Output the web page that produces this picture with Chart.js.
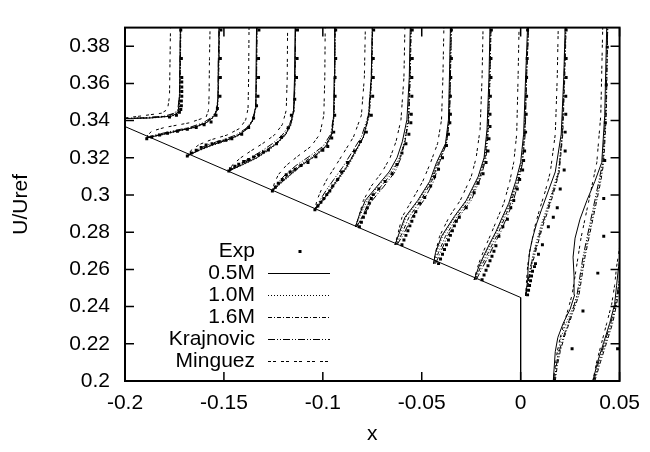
<!DOCTYPE html>
<html><head><meta charset="utf-8">
<script src="https://cdn.jsdelivr.net/npm/chart.js@4.4.1/dist/chart.umd.min.js"></script>
<style>html,body{margin:0;padding:0;background:#fff;}canvas{display:block;}</style>
</head><body>
<canvas id="c" width="650" height="452"></canvas>
<script>
const seriesNames = ['Exp', '0.5M', '1.0M', '1.6M', 'Krajnovic', 'Minguez'];
const xMin = -0.2, xMax = 0.05, xStep = 0.05;
const yMin = 0.2, yMax = 0.39, yStep = 0.02;

const wallX = [-0.2, 0, 0];
const wallY = [0.3368, 0.2449, 0.2];

const p0Y = [0.3409, 0.3414, 0.3424, 0.3440, 0.3460, 0.3531, 0.3683, 0.3902];
const p0S = [-0.2090, -0.1875, -0.1765, -0.1735, -0.1728, -0.1725, -0.1723, -0.1720];
const p0D = [-0.2090, -0.1865, -0.1760, -0.1733, -0.1725, -0.1723, -0.1720, -0.1718];
const p0C = [-0.2090, -0.1900, -0.1785, -0.1745, -0.1730, -0.1725, -0.1720, -0.1718];
const p0K = [-0.2090, -0.1925, -0.1800, -0.1750, -0.1733, -0.1725, -0.1723, -0.1720];
const p0M = [-0.2090, -0.2000, -0.1925, -0.1815, -0.1785, -0.1775, -0.1773, -0.1770];
const p0EY = [0.3419, 0.3429, 0.3445, 0.3460, 0.3480, 0.3505, 0.3531, 0.3556, 0.3581, 0.3607, 0.3632, 0.3734, 0.3887];
const p0EX = [-0.1775, -0.1740, -0.1725, -0.1718, -0.1715, -0.1715, -0.1713, -0.1713, -0.1713, -0.1713, -0.1713, -0.1715, -0.1718];

const p1Y = [0.3307, 0.3322, 0.3343, 0.3363, 0.3388, 0.3419, 0.3455, 0.3531, 0.3734, 0.3902];
const p1S = [-0.1890, -0.1825, -0.1740, -0.1650, -0.1590, -0.1553, -0.1535, -0.1530, -0.1528, -0.1525];
const p1D = [-0.1890, -0.1815, -0.1730, -0.1645, -0.1585, -0.1550, -0.1533, -0.1528, -0.1525, -0.1523];
const p1C = [-0.1890, -0.1835, -0.1750, -0.1660, -0.1595, -0.1555, -0.1535, -0.1528, -0.1525, -0.1523];
const p1K = [-0.1890, -0.1850, -0.1765, -0.1675, -0.1605, -0.1560, -0.1538, -0.1530, -0.1528, -0.1525];
const p1M = [-0.1890, -0.1885, -0.1865, -0.1800, -0.1675, -0.1590, -0.1578, -0.1575, -0.1573, -0.1570];
const p1EY = [0.3302, 0.3312, 0.3322, 0.3332, 0.3343, 0.3353, 0.3363, 0.3378, 0.3393, 0.3429, 0.3465, 0.3531, 0.3632, 0.3734, 0.3887];
const p1EX = [-0.1890, -0.1865, -0.1825, -0.1785, -0.1735, -0.1685, -0.1640, -0.1600, -0.1565, -0.1540, -0.1533, -0.1520, -0.1518, -0.1518, -0.1515];

const p2Y = [0.3210, 0.3241, 0.3271, 0.3297, 0.3322, 0.3358, 0.3404, 0.3465, 0.3632, 0.3902];
const p2S = [-0.1685, -0.1625, -0.1555, -0.1480, -0.1425, -0.1380, -0.1353, -0.1342, -0.1338, -0.1335];
const p2D = [-0.1685, -0.1620, -0.1545, -0.1470, -0.1420, -0.1378, -0.1350, -0.1340, -0.1335, -0.1333];
const p2C = [-0.1685, -0.1630, -0.1565, -0.1490, -0.1430, -0.1383, -0.1353, -0.1340, -0.1335, -0.1333];
const p2K = [-0.1685, -0.1640, -0.1580, -0.1505, -0.1440, -0.1388, -0.1355, -0.1340, -0.1335, -0.1333];
const p2M = [-0.1685, -0.1665, -0.1625, -0.1565, -0.1485, -0.1420, -0.1390, -0.1378, -0.1375, -0.1373];
const p2EY = [0.3210, 0.3226, 0.3241, 0.3256, 0.3269, 0.3276, 0.3285, 0.3294, 0.3302, 0.3327, 0.3363, 0.3414, 0.3480, 0.3531, 0.3632, 0.3734, 0.3887];
const p2EX = [-0.1685, -0.1665, -0.1640, -0.1615, -0.1590, -0.1560, -0.1525, -0.1490, -0.1460, -0.1410, -0.1375, -0.1350, -0.1335, -0.1328, -0.1325, -0.1325, -0.1323];

const p3Y = [0.3129, 0.3164, 0.3200, 0.3236, 0.3276, 0.3322, 0.3378, 0.3455, 0.3632, 0.3902];
const p3S = [-0.1475, -0.1405, -0.1335, -0.1285, -0.1235, -0.1190, -0.1163, -0.1148, -0.1143, -0.1140];
const p3D = [-0.1475, -0.1400, -0.1330, -0.1280, -0.1230, -0.1188, -0.1160, -0.1145, -0.1140, -0.1138];
const p3C = [-0.1475, -0.1415, -0.1350, -0.1295, -0.1240, -0.1195, -0.1163, -0.1145, -0.1140, -0.1138];
const p3K = [-0.1475, -0.1425, -0.1365, -0.1310, -0.1255, -0.1205, -0.1168, -0.1148, -0.1140, -0.1138];
const p3M = [-0.1475, -0.1455, -0.1415, -0.1365, -0.1305, -0.1245, -0.1205, -0.1185, -0.1180, -0.1178];
const p3EY = [0.3129, 0.3141, 0.3154, 0.3166, 0.3180, 0.3191, 0.3205, 0.3217, 0.3231, 0.3242, 0.3276, 0.3310, 0.3361, 0.3429, 0.3515, 0.3632, 0.3734, 0.3887];
const p3EX = [-0.1475, -0.1467, -0.1445, -0.1425, -0.1400, -0.1375, -0.1350, -0.1325, -0.1300, -0.1275, -0.1234, -0.1209, -0.1175, -0.1159, -0.1142, -0.1133, -0.1130, -0.1128];

const p4Y = [0.3022, 0.3063, 0.3109, 0.3159, 0.3210, 0.3261, 0.3327, 0.3429, 0.3632, 0.3902];
const p4S = [-0.1255, -0.1215, -0.1165, -0.1110, -0.1040, -0.0985, -0.0955, -0.0945, -0.0943, -0.0940];
const p4D = [-0.1255, -0.1210, -0.1160, -0.1105, -0.1035, -0.0980, -0.0953, -0.0943, -0.0940, -0.0938];
const p4C = [-0.1255, -0.1220, -0.1175, -0.1120, -0.1050, -0.0990, -0.0955, -0.0943, -0.0940, -0.0938];
const p4K = [-0.1255, -0.1230, -0.1190, -0.1135, -0.1065, -0.1000, -0.0960, -0.0945, -0.0940, -0.0938];
const p4M = [-0.1255, -0.1245, -0.1225, -0.1185, -0.1125, -0.1060, -0.1015, -0.0995, -0.0990, -0.0988];
const p4EY = [0.3022, 0.3042, 0.3063, 0.3083, 0.3109, 0.3124, 0.3139, 0.3159, 0.3175, 0.3205, 0.3241, 0.3261, 0.3307, 0.3338, 0.3429, 0.3531, 0.3632, 0.3734, 0.3887];
const p4EX = [-0.1255, -0.1240, -0.1225, -0.1205, -0.1185, -0.1165, -0.1140, -0.1110, -0.1075, -0.1035, -0.1000, -0.0975, -0.0955, -0.0945, -0.0940, -0.0938, -0.0938, -0.0935, -0.0935];

const p5Y = [0.2920, 0.2971, 0.3022, 0.3083, 0.3149, 0.3226, 0.3312, 0.3429, 0.3632, 0.3902];
const p5S = [-0.1040, -0.1000, -0.0965, -0.0925, -0.0880, -0.0840, -0.0795, -0.0768, -0.0755, -0.0750];
const p5D = [-0.1040, -0.0995, -0.0960, -0.0920, -0.0875, -0.0835, -0.0793, -0.0765, -0.0753, -0.0748];
const p5C = [-0.1040, -0.1005, -0.0970, -0.0930, -0.0885, -0.0840, -0.0795, -0.0765, -0.0753, -0.0748];
const p5K = [-0.1040, -0.1015, -0.0985, -0.0945, -0.0900, -0.0855, -0.0805, -0.0770, -0.0755, -0.0750];
const p5M = [-0.1040, -0.1030, -0.1010, -0.0980, -0.0940, -0.0895, -0.0845, -0.0805, -0.0790, -0.0785];
const p5EY = [0.2920, 0.2941, 0.2961, 0.2981, 0.3002, 0.3022, 0.3048, 0.3083, 0.3124, 0.3175, 0.3236, 0.3287, 0.3338, 0.3429, 0.3531, 0.3632, 0.3734, 0.3887];
const p5EX = [-0.1040, -0.1025, -0.1010, -0.0995, -0.0980, -0.0965, -0.0950, -0.0925, -0.0905, -0.0875, -0.0840, -0.0810, -0.0780, -0.0755, -0.0748, -0.0745, -0.0745, -0.0743];

const p6Y = [0.2829, 0.2895, 0.2971, 0.3048, 0.3124, 0.3200, 0.3287, 0.3404, 0.3632, 0.3902];
const p6S = [-0.0835, -0.0815, -0.0785, -0.0725, -0.0665, -0.0625, -0.0598, -0.0575, -0.0563, -0.0558];
const p6D = [-0.0835, -0.0810, -0.0775, -0.0720, -0.0655, -0.0613, -0.0588, -0.0568, -0.0560, -0.0555];
const p6C = [-0.0830, -0.0795, -0.0765, -0.0705, -0.0645, -0.0610, -0.0585, -0.0565, -0.0558, -0.0553];
const p6K = [-0.0830, -0.0790, -0.0750, -0.0690, -0.0635, -0.0605, -0.0585, -0.0568, -0.0560, -0.0555];
const p6M = [-0.0835, -0.0815, -0.0795, -0.0755, -0.0700, -0.0660, -0.0630, -0.0605, -0.0590, -0.0585];
const p6EY = [0.2829, 0.2854, 0.2880, 0.2905, 0.2931, 0.2956, 0.2981, 0.3002, 0.3032, 0.3073, 0.3114, 0.3164, 0.3226, 0.3276, 0.3327, 0.3388, 0.3434, 0.3531, 0.3632, 0.3734, 0.3887];
const p6EX = [-0.0815, -0.0805, -0.0795, -0.0785, -0.0775, -0.0765, -0.0755, -0.0745, -0.0717, -0.0685, -0.0650, -0.0625, -0.0600, -0.0580, -0.0565, -0.0555, -0.0553, -0.0550, -0.0550, -0.0548, -0.0548];

const p7Y = [0.2732, 0.2793, 0.2880, 0.2971, 0.3073, 0.3175, 0.3276, 0.3404, 0.3632, 0.3902];
const p7S = [-0.0635, -0.0615, -0.0585, -0.0520, -0.0460, -0.0425, -0.0380, -0.0365, -0.0360, -0.0355];
const p7D = [-0.0635, -0.0610, -0.0580, -0.0515, -0.0455, -0.0420, -0.0378, -0.0363, -0.0358, -0.0353];
const p7C = [-0.0630, -0.0600, -0.0565, -0.0505, -0.0450, -0.0415, -0.0375, -0.0360, -0.0355, -0.0350];
const p7K = [-0.0625, -0.0590, -0.0550, -0.0490, -0.0440, -0.0410, -0.0375, -0.0360, -0.0355, -0.0350];
const p7M = [-0.0635, -0.0620, -0.0600, -0.0550, -0.0495, -0.0455, -0.0420, -0.0400, -0.0393, -0.0388];
const p7EY = [0.2732, 0.2758, 0.2783, 0.2808, 0.2834, 0.2859, 0.2885, 0.2910, 0.2956, 0.2987, 0.3048, 0.3098, 0.3139, 0.3200, 0.3266, 0.3327, 0.3388, 0.3434, 0.3531, 0.3632, 0.3734, 0.3887];
const p7EX = [-0.0600, -0.0590, -0.0580, -0.0570, -0.0560, -0.0550, -0.0540, -0.0530, -0.0510, -0.0485, -0.0455, -0.0435, -0.0415, -0.0395, -0.0375, -0.0365, -0.0358, -0.0355, -0.0355, -0.0353, -0.0350, -0.0350];

const p8Y = [0.2631, 0.2692, 0.2778, 0.2885, 0.2971, 0.3098, 0.3200, 0.3353, 0.3632, 0.3902];
const p8S = [-0.0440, -0.0430, -0.0400, -0.0335, -0.0275, -0.0215, -0.0185, -0.0170, -0.0160, -0.0155];
const p8D = [-0.0440, -0.0425, -0.0395, -0.0330, -0.0270, -0.0210, -0.0183, -0.0168, -0.0158, -0.0153];
const p8C = [-0.0435, -0.0415, -0.0380, -0.0320, -0.0260, -0.0205, -0.0180, -0.0165, -0.0155, -0.0150];
const p8K = [-0.0430, -0.0405, -0.0370, -0.0310, -0.0250, -0.0200, -0.0175, -0.0163, -0.0155, -0.0150];
const p8M = [-0.0440, -0.0430, -0.0410, -0.0360, -0.0305, -0.0250, -0.0225, -0.0205, -0.0195, -0.0190];
const p8EY = [0.2631, 0.2656, 0.2681, 0.2707, 0.2732, 0.2758, 0.2783, 0.2808, 0.2834, 0.2859, 0.2880, 0.2931, 0.3012, 0.3063, 0.3114, 0.3175, 0.3236, 0.3302, 0.3368, 0.3434, 0.3531, 0.3632, 0.3734, 0.3887];
const p8EX = [-0.0415, -0.0405, -0.0395, -0.0385, -0.0375, -0.0365, -0.0355, -0.0345, -0.0335, -0.0325, -0.0310, -0.0275, -0.0235, -0.0215, -0.0190, -0.0175, -0.0165, -0.0160, -0.0155, -0.0155, -0.0153, -0.0150, -0.0150, -0.0148];

const p9Y = [0.2544, 0.2605, 0.2666, 0.2742, 0.2803, 0.2880, 0.2956, 0.3073, 0.3175, 0.3327, 0.3632, 0.3902];
const p9S = [-0.0235, -0.0215, -0.0190, -0.0155, -0.0125, -0.0093, -0.0060, -0.0025, 0.0000, 0.0015, 0.0025, 0.0035];
const p9D = [-0.0235, -0.0210, -0.0185, -0.0150, -0.0120, -0.0088, -0.0055, -0.0020, 0.0005, 0.0018, 0.0028, 0.0038];
const p9C = [-0.0230, -0.0205, -0.0175, -0.0140, -0.0110, -0.0080, -0.0050, -0.0015, 0.0008, 0.0020, 0.0030, 0.0040];
const p9K = [-0.0225, -0.0195, -0.0165, -0.0130, -0.0100, -0.0070, -0.0040, -0.0010, 0.0010, 0.0023, 0.0030, 0.0040];
const p9M = [-0.0235, -0.0220, -0.0200, -0.0170, -0.0145, -0.0115, -0.0085, -0.0055, -0.0035, -0.0020, -0.0013, -0.0008];
const p9EY = [0.2544, 0.2570, 0.2595, 0.2620, 0.2646, 0.2671, 0.2697, 0.2727, 0.2778, 0.2829, 0.2870, 0.2931, 0.2971, 0.3032, 0.3083, 0.3134, 0.3185, 0.3236, 0.3338, 0.3434, 0.3531, 0.3632, 0.3734, 0.3887];
const p9EX = [-0.0195, -0.0185, -0.0175, -0.0165, -0.0155, -0.0145, -0.0135, -0.0125, -0.0110, -0.0090, -0.0067, -0.0050, -0.0035, -0.0017, -0.0005, 0.0010, 0.0015, 0.0020, 0.0025, 0.0028, 0.0030, 0.0030, 0.0033, 0.0035];

const p10Y = [0.2458, 0.2539, 0.2615, 0.2692, 0.2768, 0.2844, 0.2920, 0.3022, 0.3124, 0.3327, 0.3632, 0.3902];
const p10S = [0.0025, 0.0035, 0.0038, 0.0045, 0.0060, 0.0080, 0.0105, 0.0140, 0.0175, 0.0205, 0.0218, 0.0225];
const p10D = [0.0025, 0.0040, 0.0050, 0.0065, 0.0085, 0.0105, 0.0130, 0.0160, 0.0190, 0.0210, 0.0220, 0.0228];
const p10C = [0.0025, 0.0040, 0.0055, 0.0075, 0.0095, 0.0115, 0.0140, 0.0170, 0.0195, 0.0213, 0.0223, 0.0230];
const p10K = [0.0025, 0.0038, 0.0050, 0.0070, 0.0090, 0.0110, 0.0135, 0.0165, 0.0193, 0.0210, 0.0220, 0.0228];
const p10M = [0.0025, 0.0030, 0.0035, 0.0045, 0.0060, 0.0075, 0.0095, 0.0125, 0.0150, 0.0175, 0.0185, 0.0190];
const p10EY = [0.2463, 0.2488, 0.2514, 0.2539, 0.2564, 0.2590, 0.2615, 0.2631, 0.2681, 0.2732, 0.2829, 0.2880, 0.2931, 0.3032, 0.3134, 0.3236, 0.3338, 0.3434, 0.3531, 0.3632, 0.3734, 0.3887];
const p10EX = [0.0035, 0.0040, 0.0045, 0.0050, 0.0055, 0.0060, 0.0070, 0.0075, 0.0090, 0.0110, 0.0140, 0.0165, 0.0185, 0.0200, 0.0220, 0.0225, 0.0225, 0.0228, 0.0228, 0.0230, 0.0230, 0.0230];

const p11Y = [0.2000, 0.2081, 0.2158, 0.2234, 0.2310, 0.2386, 0.2463, 0.2564, 0.2666, 0.2768, 0.2870, 0.2971, 0.3073, 0.3175, 0.3429, 0.3902];
const p11S = [0.0165, 0.0170, 0.0175, 0.0188, 0.0215, 0.0250, 0.0273, 0.0270, 0.0265, 0.0275, 0.0300, 0.0335, 0.0375, 0.0410, 0.0425, 0.0435];
const p11D = [0.0170, 0.0180, 0.0190, 0.0205, 0.0230, 0.0260, 0.0290, 0.0305, 0.0320, 0.0340, 0.0360, 0.0380, 0.0400, 0.0415, 0.0430, 0.0440];
const p11C = [0.0175, 0.0185, 0.0200, 0.0220, 0.0245, 0.0270, 0.0295, 0.0310, 0.0325, 0.0345, 0.0365, 0.0385, 0.0405, 0.0420, 0.0433, 0.0440];
const p11K = [0.0170, 0.0180, 0.0195, 0.0215, 0.0240, 0.0265, 0.0285, 0.0300, 0.0315, 0.0335, 0.0355, 0.0375, 0.0395, 0.0415, 0.0430, 0.0440];
const p11M = [0.0165, 0.0175, 0.0185, 0.0200, 0.0220, 0.0240, 0.0260, 0.0275, 0.0290, 0.0305, 0.0325, 0.0345, 0.0365, 0.0385, 0.0405, 0.0415];
const p11EY = [0.2173, 0.2376, 0.2580, 0.2778, 0.2981, 0.3185, 0.3388, 0.3592, 0.3795];
const p11EX = [0.0260, 0.0315, 0.0390, 0.0420, 0.0420, 0.0425, 0.0428, 0.0433, 0.0438];

const p12Y = [0.2000, 0.2107, 0.2208, 0.2310, 0.2412, 0.2514, 0.2615, 0.2717, 0.2920, 0.3175, 0.3902];
const p12S = [0.0365, 0.0390, 0.0420, 0.0450, 0.0475, 0.0485, 0.0495, 0.0510, 0.0575, 0.0650, 0.0700];
const p12D = [0.0370, 0.0400, 0.0430, 0.0460, 0.0480, 0.0495, 0.0510, 0.0530, 0.0590, 0.0660, 0.0710];
const p12C = [0.0375, 0.0405, 0.0435, 0.0465, 0.0485, 0.0500, 0.0515, 0.0535, 0.0595, 0.0665, 0.0710];
const p12K = [0.0370, 0.0395, 0.0425, 0.0455, 0.0480, 0.0495, 0.0510, 0.0525, 0.0585, 0.0655, 0.0705];
const p12M = [0.0365, 0.0385, 0.0410, 0.0435, 0.0460, 0.0475, 0.0485, 0.0500, 0.0560, 0.0625, 0.0665];
const p12EY = [0.2173, 0.2376, 0.2580];
const p12EX = [0.0490, 0.0550, 0.0615];

// ---- build datasets ----
const profiles = [
  [p0Y, p0S, p0D, p0C, p0K, p0M, p0EY, p0EX],
  [p1Y, p1S, p1D, p1C, p1K, p1M, p1EY, p1EX],
  [p2Y, p2S, p2D, p2C, p2K, p2M, p2EY, p2EX],
  [p3Y, p3S, p3D, p3C, p3K, p3M, p3EY, p3EX],
  [p4Y, p4S, p4D, p4C, p4K, p4M, p4EY, p4EX],
  [p5Y, p5S, p5D, p5C, p5K, p5M, p5EY, p5EX],
  [p6Y, p6S, p6D, p6C, p6K, p6M, p6EY, p6EX],
  [p7Y, p7S, p7D, p7C, p7K, p7M, p7EY, p7EX],
  [p8Y, p8S, p8D, p8C, p8K, p8M, p8EY, p8EX],
  [p9Y, p9S, p9D, p9C, p9K, p9M, p9EY, p9EX],
  [p10Y, p10S, p10D, p10C, p10K, p10M, p10EY, p10EX],
  [p11Y, p11S, p11D, p11C, p11K, p11M, p11EY, p11EX],
  [p12Y, p12S, p12D, p12C, p12K, p12M, p12EY, p12EX]
];
const dashes = [null, [], [1, 2], [4, 2, 1, 2], [7, 2, 1, 2, 1, 2], [3, 2, 3, 5]];
const pts = (xs, ys) => xs.map((x, i) => ({x: x, y: ys[i]}));

const datasets = [];
datasets.push({label: 'wall', data: pts(wallX, wallY), showLine: true, borderColor: '#000', borderWidth: 1, pointRadius: 0, fill: false});
profiles.forEach(p => {
  const [ys, s, d, c, k, m, ey, ex] = p;
  [s, d, c, k, m].forEach((xs, j) => {
    datasets.push({label: seriesNames[j + 1], data: pts(xs, ys), showLine: true,
      borderColor: '#000', borderWidth: 1, borderDash: dashes[j + 1], pointRadius: 0, fill: false, tension: 0});
  });
  datasets.push({label: 'Exp', data: pts(ex, ey), showLine: false, pointStyle: 'rect',
    pointRadius: 2.1, pointBorderWidth: 0, pointBackgroundColor: '#000', borderColor: '#000', backgroundColor: '#000'});
});

const FONT = '"Liberation Sans", Arial, Helvetica, sans-serif';

const framePlugin = {
  id: 'gpFrame',
  afterDatasetsDraw(chart) {
    const {ctx, chartArea: a, scales} = chart;
    const xs = scales.x, ys = scales.y;
    ctx.save();
    ctx.setLineDash([]);
    ctx.strokeStyle = '#000';
    ctx.lineWidth = 1.5;
    ctx.beginPath();
    ys.ticks.forEach(t => {
      const py = ys.getPixelForValue(t.value);
      ctx.moveTo(a.left, py); ctx.lineTo(a.left + 9, py);
      ctx.moveTo(a.right, py); ctx.lineTo(a.right - 9, py);
    });
    xs.ticks.forEach(t => {
      const px = xs.getPixelForValue(t.value);
      ctx.moveTo(px, a.bottom); ctx.lineTo(px, a.bottom - 9);
      ctx.moveTo(px, a.top); ctx.lineTo(px, a.top + 9);
    });
    ctx.stroke();
    ctx.lineWidth = 2;
    ctx.strokeRect(a.left, a.top, a.right - a.left, a.bottom - a.top);
    // legend
    ctx.font = '21px ' + FONT;
    ctx.fillStyle = '#000';
    ctx.textAlign = 'right';
    ctx.textBaseline = 'middle';
    seriesNames.forEach((name, i) => {
      const y = 251.5 + i * 21.9;
      ctx.fillText(name, 255, y);
      if (i === 0) {
        ctx.fillRect(298.5, y - 1.5, 3, 3);
      } else {
        ctx.lineWidth = 1;
        ctx.setLineDash(dashes[i]);
        ctx.beginPath();
        ctx.moveTo(268, Math.round(y) + 0.5);
        ctx.lineTo(330, Math.round(y) + 0.5);
        ctx.stroke();
      }
    });
    ctx.restore();
  }
};

const fmt = v => String(parseFloat(Number(v).toFixed(2)));

new Chart(document.getElementById('c'), {
  type: 'scatter',
  data: {datasets},
  options: {
    responsive: false,
    animation: false,
    devicePixelRatio: 1,
    layout: {padding: {left: 0, right: 25, top: 7, bottom: 0}},
    plugins: {legend: {display: false}, tooltip: {enabled: false}},
    scales: {
      x: {
        type: 'linear', min: xMin, max: xMax,
        afterFit(s) { s.height = 71; },
        grid: {display: false, drawTicks: false}, border: {display: false},
        ticks: {stepSize: xStep, padding: 10, autoSkip: false, maxRotation: 0, color: '#000',
          font: {family: FONT, size: 21}, callback: fmt},
        title: {display: true, text: 'x', color: '#000', font: {family: FONT, size: 21}, padding: {top: 0, bottom: 5}}
      },
      y: {
        type: 'linear', min: yMin, max: yMax,
        afterFit(s) { s.width = 125; },
        grid: {display: false, drawTicks: false}, border: {display: false},
        ticks: {stepSize: yStep, includeBounds: false, padding: 15, autoSkip: false, color: '#000',
          font: {family: FONT, size: 21}, callback: fmt},
        title: {display: true, text: 'U/Uref', color: '#000', font: {family: FONT, size: 21}, padding: {top: 9, bottom: 0}}
      }
    }
  },
  plugins: [framePlugin]
});
</script>
</body></html>
